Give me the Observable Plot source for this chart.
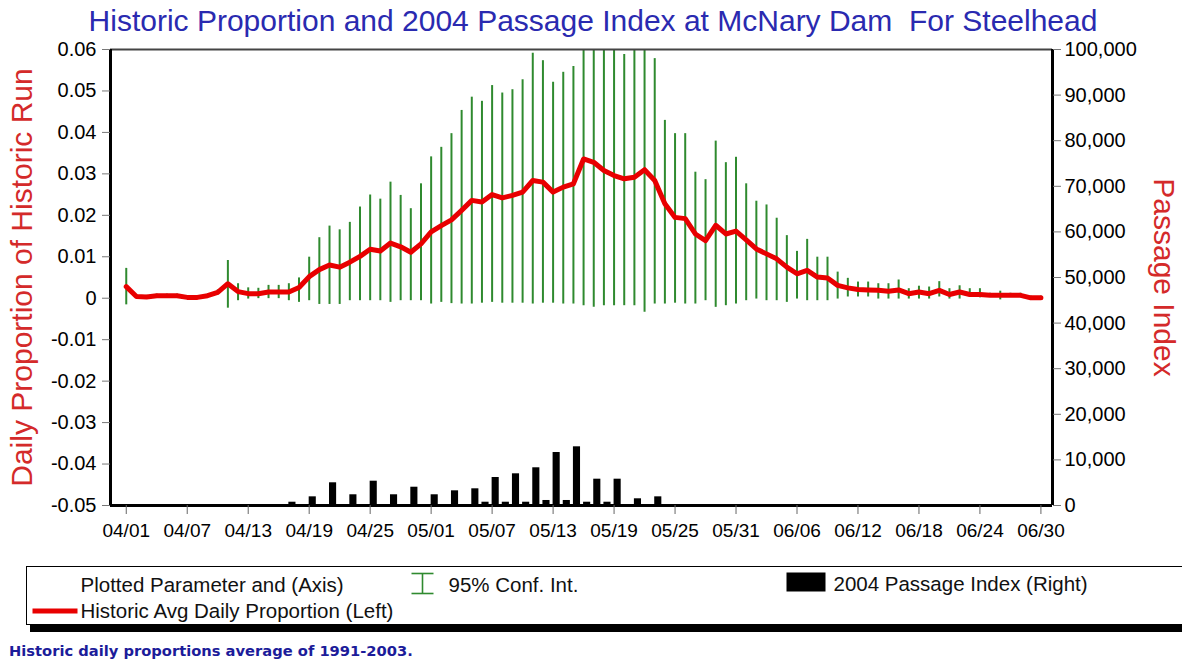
<!DOCTYPE html>
<html>
<head>
<meta charset="utf-8">
<script src="https://cdn.jsdelivr.net/npm/d3@7"></script>
<script src="https://cdn.jsdelivr.net/npm/@observablehq/plot@0.6"></script>
<style>
  html, body { margin: 0; padding: 0; background: #fff; }
  body { width: 1182px; height: 666px; overflow: hidden; position: relative; font-family: "Liberation Sans", Arial, sans-serif; }
  #title { position: absolute; left: 0; top: 0; width: 1182px; height: 28px; line-height: 40px; padding-top: 1px;
           text-align: center; font-size: 30px; color: #2a2ab0; white-space: pre; padding-left: 4px; box-sizing: border-box; }
  #chart { position: absolute; left: 0; top: 28px; }
  #legend { position: absolute; left: 26px; top: 566px; width: 1200px; height: 57px; border: 1.5px solid #000;
            box-shadow: 4px 7px 0 #000; background: #fff; }
  .lg { position: absolute; font-size: 20.5px; color: #111; white-space: pre; line-height: 24px; }
  #caption { position: absolute; left: 9px; top: 641px; font-family: "DejaVu Sans", sans-serif; font-size: 14.7px;
             font-weight: bold; color: #1c1c9a; white-space: pre; line-height: 20px; }
</style>
</head>
<body>
<div id="title"></div>
<div id="chart"></div>
<div id="legend"></div>
<div id="caption"></div>
<script>
// ---------------- data ----------------
const titleText = "Historic Proportion and 2004 Passage Index at McNary Dam  For Steelhead";
const leftLabel = "Daily Proportion of Historic Run";
const rightLabel = "Passage Index";
const captionText = "Historic daily proportions average of 1991-2003.";
const legendHeader = "Plotted Parameter and (Axis)";
const legendCI = "95% Conf. Int.";
const legendPassage = "2004 Passage Index (Right)";
const legendAvg = "Historic Avg Daily Proportion (Left)";

const days = [
  "04/01","04/02","04/03","04/04","04/05","04/06","04/07","04/08","04/09","04/10",
  "04/11","04/12","04/13","04/14","04/15","04/16","04/17","04/18","04/19","04/20",
  "04/21","04/22","04/23","04/24","04/25","04/26","04/27","04/28","04/29","04/30",
  "05/01","05/02","05/03","05/04","05/05","05/06","05/07","05/08","05/09","05/10",
  "05/11","05/12","05/13","05/14","05/15","05/16","05/17","05/18","05/19","05/20",
  "05/21","05/22","05/23","05/24","05/25","05/26","05/27","05/28","05/29","05/30",
  "05/31","06/01","06/02","06/03","06/04","06/05","06/06","06/07","06/08","06/09",
  "06/10","06/11","06/12","06/13","06/14","06/15","06/16","06/17","06/18","06/19",
  "06/20","06/21","06/22","06/23","06/24","06/25","06/26","06/27","06/28","06/29",
  "06/30"
];
const avgProportion = [
  0.0028,0.0004,0.0003,0.0006,0.0006,0.0006,0.0002,0.0002,0.0006,0.0014,
  0.0035,0.0016,0.0011,0.0011,0.0015,0.0015,0.0015,0.0026,0.0052,0.0069,
  0.0080,0.0075,0.0087,0.0101,0.0118,0.0114,0.0133,0.0124,0.0111,0.0131,
  0.0160,0.0175,0.0189,0.0212,0.0236,0.0232,0.0250,0.0242,0.0248,0.0256,
  0.0284,0.0280,0.0256,0.0268,0.0276,0.0336,0.0328,0.0308,0.0296,0.0288,
  0.0292,0.0310,0.0284,0.0228,0.0195,0.0192,0.0155,0.0139,0.0176,0.0155,
  0.0162,0.0141,0.0119,0.0107,0.0095,0.0075,0.0059,0.0067,0.0051,0.0049,
  0.0031,0.0025,0.0021,0.0020,0.0019,0.0017,0.0020,0.0011,0.0015,0.0011,
  0.0019,0.0009,0.0015,0.0009,0.0009,0.0007,0.0007,0.0007,0.0007,0.0001,
  0.0001
];
const ciUpper = [
  0.0072,0.0008,0.0007,0.0010,0.0010,0.0010,0.0006,0.0006,0.0010,0.0020,
  0.0091,0.0035,0.0025,0.0024,0.0031,0.0031,0.0035,0.0049,0.0099,0.0146,
  0.0174,0.0165,0.0183,0.0220,0.0249,0.0239,0.0280,0.0248,0.0216,0.0276,
  0.0341,0.0364,0.0397,0.0453,0.0485,0.0475,0.0513,0.0495,0.0503,0.0527,
  0.0591,0.0573,0.0521,0.0545,0.0559,0.0620,0.0640,0.0630,0.0625,0.0588,
  0.0610,0.0615,0.0578,0.0429,0.0397,0.0397,0.0304,0.0286,0.0379,0.0327,
  0.0340,0.0276,0.0234,0.0225,0.0193,0.0151,0.0113,0.0142,0.0099,0.0099,
  0.0063,0.0048,0.0039,0.0039,0.0035,0.0035,0.0044,0.0023,0.0029,0.0027,
  0.0040,0.0023,0.0030,0.0023,0.0023,0.0012,0.0017,0.0012,0.0012,0.0005,
  0.0005
];
const ciLower = [
  -0.0016,0.0000,-0.0001,0.0002,0.0002,0.0002,-0.0002,-0.0002,0.0002,0.0008,
  -0.0024,-0.0006,-0.0002,-0.0001,-0.0001,-0.0001,-0.0006,-0.0010,-0.0006,-0.0015,
  -0.0015,-0.0015,-0.0006,-0.0006,-0.0006,-0.0006,-0.0010,-0.0006,-0.0006,-0.0006,
  -0.0014,-0.0010,-0.0013,-0.0014,-0.0014,-0.0012,-0.0010,-0.0012,-0.0012,-0.0012,
  -0.0014,-0.0012,-0.0012,-0.0014,-0.0014,-0.0018,-0.0022,-0.0018,-0.0018,-0.0018,
  -0.0018,-0.0034,-0.0014,-0.0014,-0.0012,-0.0014,-0.0014,-0.0006,-0.0022,-0.0018,
  -0.0014,-0.0006,-0.0002,-0.0006,-0.0006,-0.0010,-0.0002,-0.0006,-0.0006,-0.0006,
  -0.0002,0.0003,0.0003,0.0003,-0.0002,-0.0002,-0.0002,-0.0002,-0.0002,-0.0002,
  0.0003,-0.0002,-0.0002,0.0003,0.0001,0.0002,-0.0004,0.0002,0.0002,-0.0003,
  -0.0003
];
const passageDays = [
  "04/17","04/19","04/21","04/23","04/25","04/27","04/29","05/01","05/03","05/05",
  "05/06","05/07","05/08","05/09","05/10","05/11","05/12","05/13","05/14","05/15",
  "05/16","05/17","05/18","05/19","05/21","05/23"
];
const passageIndex = [
  720,1900,4980,2350,5330,2350,4010,2350,3220,3660,
  720,6140,720,6950,720,8270,1100,11620,1100,12870,
  720,5770,720,5770,1470,1900
];
const xTickLabels = ["04/01","04/07","04/13","04/19","04/25","05/01","05/07","05/13",
                     "05/19","05/25","05/31","06/06","06/12","06/18","06/24","06/30"];
const leftTicks = [-0.05,-0.04,-0.03,-0.02,-0.01,0,0.01,0.02,0.03,0.04,0.05,0.06];
const rightTicks = [0,10000,20000,30000,40000,50000,60000,70000,80000,90000,100000];

// ---------------- helpers ----------------
const DAY = 864e5;
const toDate = s => { const [m, d] = s.split("/").map(Number); return new Date(Date.UTC(2004, m - 1, d)); };
const leftMin = -0.05, leftMax = 0.06, rightMax = 100000;
const toLeft = v => leftMin + v * (leftMax - leftMin) / rightMax;
const fromLeft = y => Math.round((y - leftMin) / (leftMax - leftMin) * rightMax);
const x0 = toDate(days[0]);
const xStart = new Date(+x0 - 1.55 * DAY);
const xEnd = new Date(+x0 + 91.14 * DAY);

const daily = days.map((d, i) => ({date: toDate(d), avg: avgProportion[i], hi: ciUpper[i], lo: ciLower[i]}));
const passage = passageDays.map((d, i) => ({date: toDate(d), value: passageIndex[i]}));

// ---------------- chart ----------------
const chart = Plot.plot({
  width: 1182,
  height: 517,
  marginLeft: 110,
  marginRight: 130,
  marginTop: 21,
  marginBottom: 40,
  style: {fontFamily: "'Liberation Sans', Arial, sans-serif", background: "transparent", color: "#000"},
  x: {type: "utc", domain: [xStart, xEnd], axis: null},
  y: {domain: [leftMin, leftMax], axis: null},
  marks: [
    Plot.ruleX(daily, {x: "date", y1: "lo", y2: "hi", stroke: "#2f8a2f", strokeWidth: 2, clip: true}),
    Plot.rect(passage, {
      x1: d => d.date,
      x2: d => new Date(+d.date + 0.7 * DAY),
      y1: () => leftMin,
      y2: d => toLeft(d.value),
      fill: "#000"
    }),
    Plot.line(daily, {x: "date", y: "avg", stroke: "#e80000", strokeWidth: 5, strokeLinejoin: "round"}),
    Plot.ruleY([leftMax], {stroke: "#444", strokeWidth: 2}),
    Plot.ruleX([xStart], {stroke: "#000", strokeWidth: 3}),
    Plot.ruleX([xEnd], {stroke: "#000", strokeWidth: 3}),
    Plot.ruleY([leftMin], {stroke: "#000", strokeWidth: 3}),
    Plot.axisX(xTickLabels.map(toDate), {
      anchor: "bottom", tickSize: 9, tickPadding: 9, fontSize: 19, stroke: "#666", fill: "#000",
      tickFormat: d3.utcFormat("%m/%d"), label: null
    }),
    Plot.axisY(leftTicks, {
      anchor: "left", tickSize: 8, tickPadding: 6, fontSize: 20, stroke: "#777", fill: "#000",
      tickFormat: d => Math.abs(d) < 1e-9 ? "0" : d.toFixed(2), label: null
    }),
    Plot.axisY(rightTicks.map(toLeft), {
      anchor: "right", tickSize: 8, tickPadding: 4, fontSize: 20, stroke: "#777", fill: "#000",
      tickFormat: d => d3.format(",")(fromLeft(d)), label: null
    }),
    Plot.text([leftLabel], {frameAnchor: "left", dx: -88, rotate: -90, textAnchor: "middle", fontSize: 30, fill: "#d42a2a"}),
    Plot.text([rightLabel], {frameAnchor: "right", dx: 111, rotate: 90, textAnchor: "middle", fontSize: 30, fill: "#d42a2a"})
  ]
});
document.getElementById("chart").appendChild(chart);

document.getElementById("title").textContent = titleText;
document.getElementById("caption").textContent = captionText;

// ---------------- legend (HTML) ----------------
const legend = document.getElementById("legend");
const ox = 27.5, oy = 567.5;
function addText(txt, left, centerY) {
  const el = document.createElement("div");
  el.className = "lg";
  el.textContent = txt;
  el.style.left = (left - ox) + "px";
  el.style.top = (centerY - 12 - oy) + "px";
  legend.appendChild(el);
}
addText(legendHeader, 81, 585);
addText(legendCI, 449, 585);
addText(legendPassage, 834, 584);
addText(legendAvg, 81, 611);

const ns = "http://www.w3.org/2000/svg";
const sym = document.createElementNS(ns, "svg");
sym.setAttribute("width", "1150");
sym.setAttribute("height", "57");
sym.style.position = "absolute";
sym.style.left = "0";
sym.style.top = "0";
sym.innerHTML = `
  <g stroke="#2f8a2f" stroke-width="1.6" fill="none">
    <line x1="${412 - ox}" x2="${434 - ox}" y1="${574 - oy}" y2="${574 - oy}"/>
    <line x1="${412 - ox}" x2="${434 - ox}" y1="${594 - oy}" y2="${594 - oy}"/>
    <line x1="${423 - ox}" x2="${423 - ox}" y1="${574 - oy}" y2="${594 - oy}"/>
  </g>
  <rect x="${787 - ox}" y="${573 - oy}" width="39" height="19" fill="#000"/>
  <line x1="${33 - ox}" x2="${78 - ox}" y1="${611.5 - oy}" y2="${611.5 - oy}" stroke="#e80000" stroke-width="5"/>
`;
legend.appendChild(sym);
</script>
</body>
</html>
